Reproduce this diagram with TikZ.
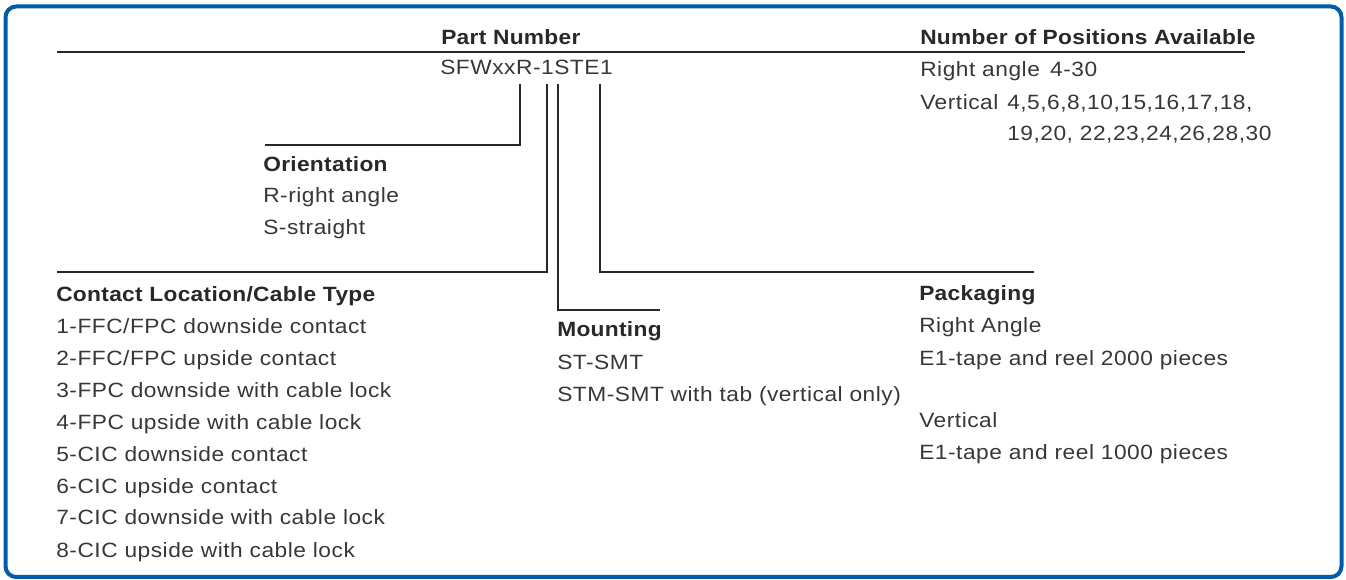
\documentclass[tikz,border=0pt]{standalone}
\usepackage{fontspec}
\setmainfont{Liberation Sans}[FakeStretch=1.1, LetterSpace=2.5, BoldFeatures={LetterSpace=1.5}]
\definecolor{frameblue}{RGB}{0,92,170}
\definecolor{inkgray}{RGB}{40,40,40}
\definecolor{textgray}{RGB}{55,55,55}
\tikzset{
  head/.style={anchor=base west, inner sep=0pt, font=\fontsize{15.5}{18}\selectfont\bfseries, text=inkgray},
  item/.style={anchor=base west, inner sep=0pt, font=\fontsize{15.5}{18}\selectfont, text=textgray},
  leader/.style={line width=1.6pt, inkgray}
}
\begin{document}
\begin{tikzpicture}[x=0.75pt, y=-0.75pt]
\useasboundingbox (0,0) rectangle (1346,580);
\draw[frameblue, line width=3pt, rounded corners=8pt] (5.5,6.5) rectangle (1341.5,577);

% heading row
\node[head] (partnum) at (441,45) {Part Number};
\node[head] (positions) at (920,45) {Number of Positions Available};
\coordinate (ruleL) at (57,52);
\coordinate (ruleR) at (1245,52);
\draw[leader] (ruleL) -- (ruleR);

\node[item] (code) at (440,75) {SFWxxR-1STE1};
\node[item] (posra) at (920,77) {\makebox[97.5pt][l]{Right angle}4-30};
\node[item] (posvert) at (920,110) {\makebox[65.25pt][l]{Vertical}4,5,6,8,10,15,16,17,18,};
\node[item] (posvert2) at (1007,141) {19,20, 22,23,24,26,28,30};

% leader start points under the code
\coordinate (tapR) at (520,84);
\coordinate (tap1) at (547,84);
\coordinate (tapS) at (558,84);
\coordinate (tapE) at (600,84);

% orientation
\coordinate (orientL) at (265,145);
\node[head] (orient) at (263,172) {Orientation};
\node[item] (orient1) at (263,203) {R-right angle};
\node[item] (orient2) at (263,235) {S-straight};
\draw[leader] (tapR) |- (orientL);

% contact location
\coordinate (contactL) at (57,272);
\node[head] (contact) at (56,302) {Contact Location/Cable Type};
\node[item] (contact1) at (56,334) {1-FFC/FPC downside contact};
\node[item] (contact2) at (56,366) {2-FFC/FPC upside contact};
\node[item] (contact3) at (56,398) {3-FPC downside with cable lock};
\node[item] (contact4) at (56,430) {4-FPC upside with cable lock};
\node[item] (contact5) at (56,462) {5-CIC downside contact};
\node[item] (contact6) at (56,494) {6-CIC upside contact};
\node[item] (contact7) at (56,525) {7-CIC downside with cable lock};
\node[item] (contact8) at (56,557) {8-CIC upside with cable lock};
\draw[leader] (tap1) |- (contactL);

% mounting
\coordinate (mountR) at (660,310);
\node[head] (mount) at (557,337) {Mounting};
\node[item] (mount1) at (557,370) {ST-SMT};
\node[item] (mount2) at (557,402) {STM-SMT with tab (vertical only)};
\draw[leader] (tapS) |- (mountR);

% packaging
\coordinate (packR) at (1034,272);
\node[head] (pack) at (919,301) {Packaging};
\node[item] (pack1) at (919,333) {Right Angle};
\node[item] (pack2) at (919,366) {E1-tape and reel 2000 pieces};
\node[item] (pack3) at (919,428) {Vertical};
\node[item] (pack4) at (919,460) {E1-tape and reel 1000 pieces};
\draw[leader] (tapE) |- (packR);
\end{tikzpicture}
\end{document}
